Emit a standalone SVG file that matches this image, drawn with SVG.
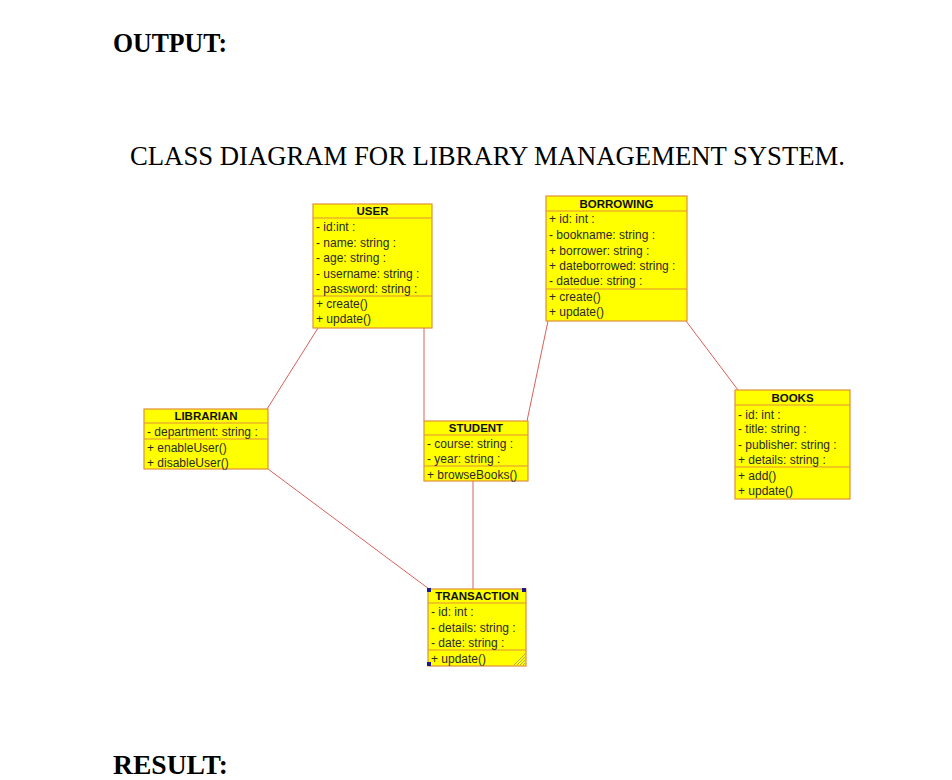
<svg xmlns="http://www.w3.org/2000/svg" width="952" height="780" viewBox="0 0 952 780">
<style>
.box{fill:#ffff00;stroke:#e0903a;stroke-width:1.2}
.sep{stroke:#e0903a;stroke-width:1.2}
.t{font-family:"Liberation Sans",Arial,sans-serif;font-size:11.5px;font-weight:bold;fill:#111;text-anchor:middle}
.r{font-family:"Liberation Sans",Arial,sans-serif;font-size:12px;fill:#2a2a2a}
.c{stroke:#d9605a;stroke-width:1;fill:none}
.h{font-family:"Liberation Serif","Times New Roman",serif;fill:#000}
.hnd{fill:#1a1a8c}
</style>
<rect width="952" height="780" fill="#fff"/>
<text class="h" x="113" y="52" font-size="27" font-weight="bold" textLength="114" lengthAdjust="spacingAndGlyphs">OUTPUT:</text>
<text class="h" x="130" y="165" font-size="26.5" textLength="715" lengthAdjust="spacingAndGlyphs">CLASS DIAGRAM FOR LIBRARY MANAGEMENT SYSTEM.</text>
<text class="h" x="113" y="774" font-size="27" font-weight="bold" textLength="115" lengthAdjust="spacingAndGlyphs">RESULT:</text>

<g id="connectors">
<line class="c" x1="318" y1="328" x2="267" y2="409"/>
<line class="c" x1="424" y1="328" x2="424" y2="421"/>
<line class="c" x1="548" y1="321" x2="527" y2="421"/>
<line class="c" x1="686" y1="321" x2="738" y2="390"/>
<line class="c" x1="268" y1="469" x2="429" y2="589"/>
<line class="c" x1="473" y1="481" x2="473" y2="589"/>
</g>

<g id="user">
<rect class="box" x="313" y="204" width="119" height="124"/>
<line class="sep" x1="313" y1="218" x2="432" y2="218"/>
<line class="sep" x1="313" y1="296" x2="432" y2="296"/>
<text class="t" x="372.5" y="215">USER</text>
<text class="r" x="316" y="231">- id:int :</text>
<text class="r" x="316" y="247">- name: string :</text>
<text class="r" x="316" y="262">- age: string :</text>
<text class="r" x="316" y="278">- username: string :</text>
<text class="r" x="316" y="293">- password: string :</text>
<text class="r" x="316" y="308">+ create()</text>
<text class="r" x="316" y="323">+ update()</text>
</g>

<g id="borrowing">
<rect class="box" x="546" y="196" width="141" height="125"/>
<line class="sep" x1="546" y1="211" x2="687" y2="211"/>
<line class="sep" x1="546" y1="289" x2="687" y2="289"/>
<text class="t" x="616.5" y="207.5">BORROWING</text>
<text class="r" x="549" y="223">+ id: int :</text>
<text class="r" x="549" y="239">- bookname: string :</text>
<text class="r" x="549" y="255">+ borrower: string :</text>
<text class="r" x="549" y="270">+ dateborrowed: string :</text>
<text class="r" x="549" y="285">- datedue: string :</text>
<text class="r" x="549" y="301">+ create()</text>
<text class="r" x="549" y="316">+ update()</text>
</g>

<g id="librarian">
<rect class="box" x="144" y="409" width="124" height="60"/>
<line class="sep" x1="144" y1="423" x2="268" y2="423"/>
<line class="sep" x1="144" y1="439" x2="268" y2="439"/>
<text class="t" x="206" y="419.5">LIBRARIAN</text>
<text class="r" x="147" y="436">- department: string :</text>
<text class="r" x="147" y="452">+ enableUser()</text>
<text class="r" x="147" y="467">+ disableUser()</text>
</g>

<g id="student">
<rect class="box" x="424" y="421" width="104" height="60"/>
<line class="sep" x1="424" y1="435" x2="528" y2="435"/>
<line class="sep" x1="424" y1="466" x2="528" y2="466"/>
<text class="t" x="476" y="431.5">STUDENT</text>
<text class="r" x="427" y="448">- course: string :</text>
<text class="r" x="427" y="463">- year: string :</text>
<text class="r" x="427" y="479">+ browseBooks()</text>
</g>

<g id="books">
<rect class="box" x="735" y="390" width="115" height="109"/>
<line class="sep" x1="735" y1="405" x2="850" y2="405"/>
<line class="sep" x1="735" y1="467" x2="850" y2="467"/>
<text class="t" x="792.5" y="401.5">BOOKS</text>
<text class="r" x="738" y="419">- id: int :</text>
<text class="r" x="738" y="433">- title: string :</text>
<text class="r" x="738" y="449">- publisher: string :</text>
<text class="r" x="738" y="464">+ details: string :</text>
<text class="r" x="738" y="480">+ add()</text>
<text class="r" x="738" y="495">+ update()</text>
</g>

<g id="transaction">
<rect class="box" x="428" y="589" width="98" height="77"/>
<line class="sep" x1="428" y1="603" x2="526" y2="603"/>
<line class="sep" x1="428" y1="650" x2="526" y2="650"/>
<text class="t" x="477" y="600">TRANSACTION</text>
<text class="r" x="431" y="616">- id: int :</text>
<text class="r" x="431" y="632">- details: string :</text>
<text class="r" x="431" y="647">- date: string :</text>
<text class="r" x="431" y="663">+ update()</text>
<rect class="hnd" x="427" y="588" width="4" height="4"/>
<rect class="hnd" x="522" y="588" width="4" height="4"/>
<rect class="hnd" x="427" y="662" width="4" height="4"/>
<g stroke="#9a9a60" stroke-width="0.8">
<line x1="514" y1="665" x2="525" y2="654"/>
<line x1="517" y1="665" x2="525" y2="657"/>
<line x1="520" y1="665" x2="525" y2="660"/>
<line x1="523" y1="665" x2="525" y2="663"/>
</g>
</g>
</svg>
